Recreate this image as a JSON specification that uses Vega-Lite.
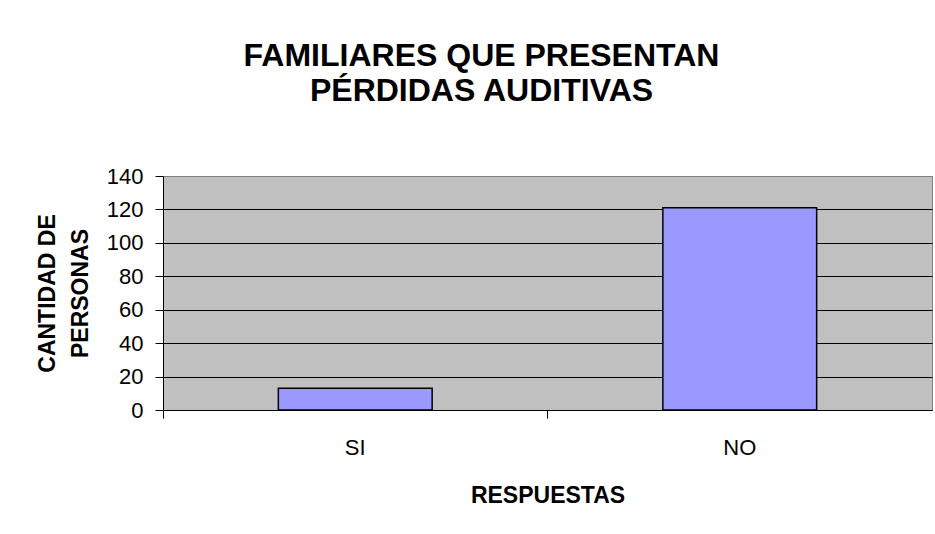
{
  "$schema": "https://vega.github.io/schema/vega-lite/v6.json",
  "autosize": "none",
  "width": 769,
  "height": 234,
  "padding": {"left": 163, "top": 176, "right": 3, "bottom": 124},
  "background": "white",
  "title": {
    "text": ["FAMILIARES QUE PRESENTAN", "PÉRDIDAS AUDITIVAS"],
    "font": "Liberation Sans",
    "fontSize": 32,
    "fontWeight": "bold",
    "color": "black",
    "anchor": "middle",
    "dx": -66,
    "lineHeight": 35,
    "offset": 57
  },
  "data": {
    "values": [
      {"respuesta": "SI", "cantidad": 13},
      {"respuesta": "NO", "cantidad": 121}
    ]
  },
  "mark": {"type": "bar", "fill": "#9999FF", "stroke": "black", "strokeWidth": 1.5},
  "encoding": {
    "x": {
      "field": "respuesta",
      "type": "nominal",
      "sort": ["SI", "NO"],
      "scale": {"paddingInner": 0.6, "paddingOuter": 0.3},
      "axis": {
        "title": "RESPUESTAS",
        "titleFont": "Liberation Sans",
        "titleFontSize": 23,
        "titleFontWeight": "bold",
        "titleColor": "black",
        "titlePadding": 26,
        "labelFont": "Liberation Sans",
        "labelFontSize": 22,
        "labelColor": "black",
        "labelAngle": 0,
        "labelPadding": 19,
        "bandPosition": -0.75,
        "tickSize": 8,
        "tickColor": "black",
        "domainColor": "black",
        "grid": false
      }
    },
    "y": {
      "field": "cantidad",
      "type": "quantitative",
      "scale": {"domain": [0, 140], "nice": false},
      "axis": {
        "title": ["CANTIDAD DE", "PERSONAS"],
        "titleFont": "Liberation Sans",
        "titleFontSize": 23,
        "titleFontWeight": "bold",
        "titleColor": "black",
        "titleLineHeight": 33,
        "titlePadding": 14,
        "values": [0, 20, 40, 60, 80, 100, 120, 140],
        "labelFont": "Liberation Sans",
        "labelFontSize": 22,
        "labelColor": "black",
        "labelPadding": 12,
        "tickSize": 8,
        "tickColor": "black",
        "domainColor": "black",
        "grid": true,
        "gridColor": {"condition": {"test": "datum.value == 140", "value": "#808080"}, "value": "black"},
        "gridOpacity": 1
      }
    }
  },
  "config": {
    "view": {"fill": "#C0C0C0", "stroke": "#808080", "strokeWidth": 1}
  }
}
